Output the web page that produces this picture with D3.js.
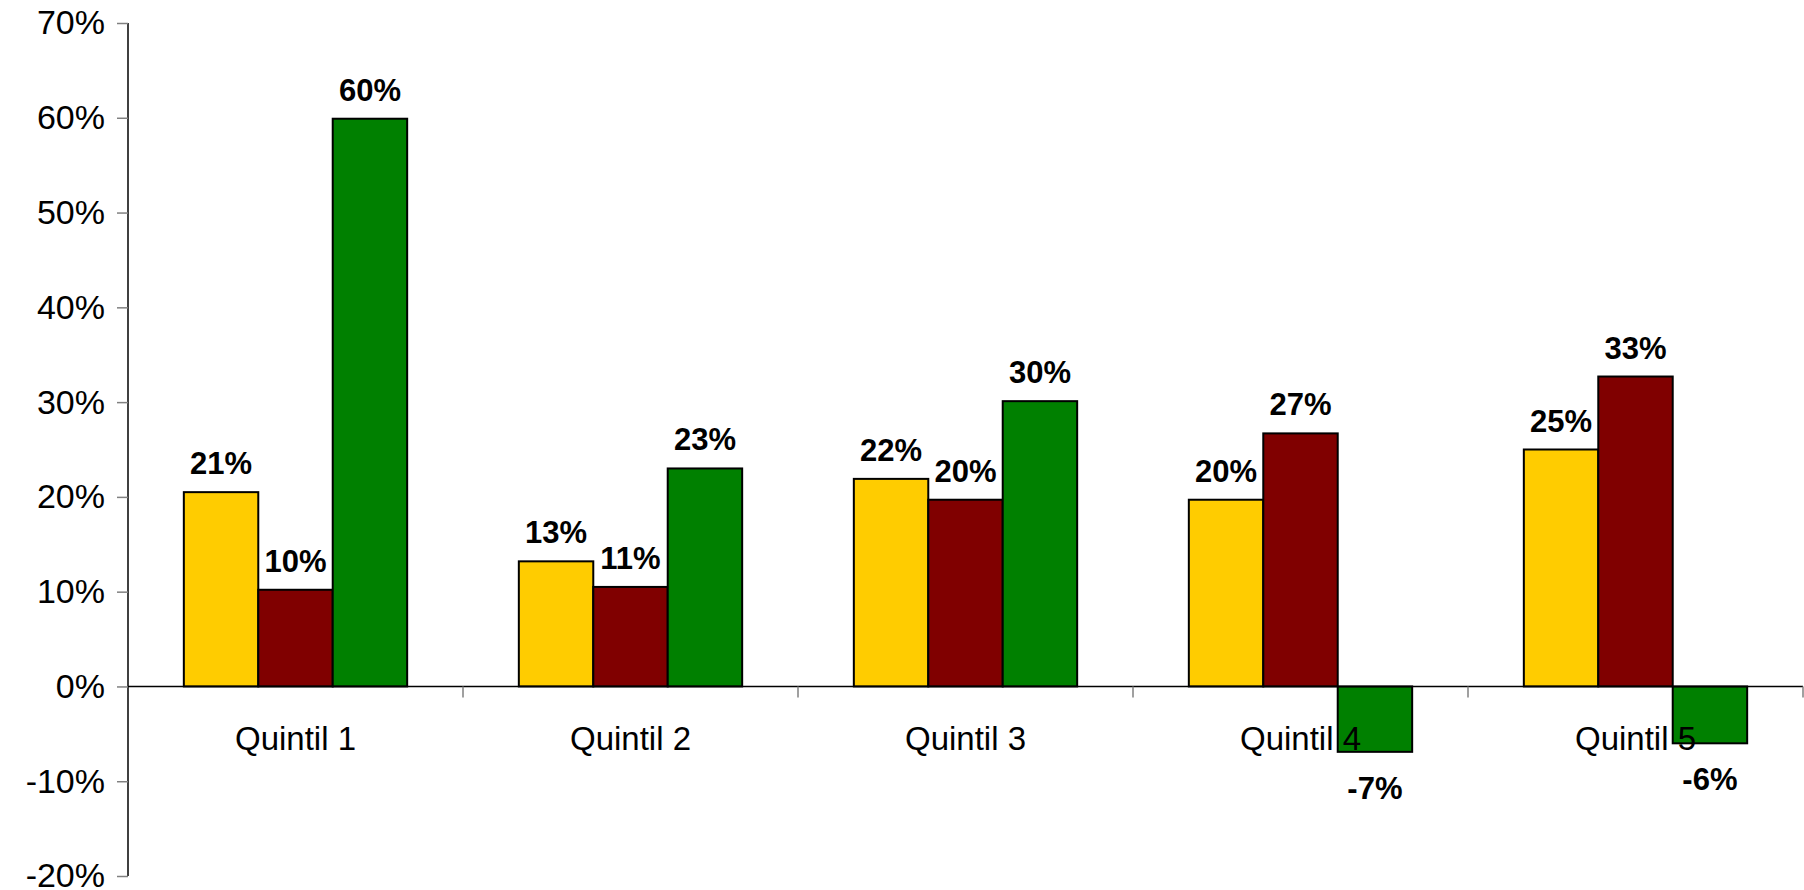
<!DOCTYPE html>
<html><head><meta charset="utf-8">
<script src="https://cdn.jsdelivr.net/npm/d3@7/dist/d3.min.js"></script>
<style>html,body{margin:0;padding:0;background:#fff;overflow:hidden}</style>
</head><body>
<svg id="chart" width="1804" height="890"></svg>
<script>
const categories = ["Quintil 1", "Quintil 2", "Quintil 3", "Quintil 4", "Quintil 5"];
const seriesNames = ["Serie 1", "Serie 2", "Serie 3"];
const serie1 = [0.205, 0.132, 0.219, 0.197, 0.250];
const serie2 = [0.102, 0.105, 0.197, 0.267, 0.327];
const serie3 = [0.599, 0.230, 0.301, -0.069, -0.060];
const labels1 = ["21%", "13%", "22%", "20%", "25%"];
const labels2 = ["10%", "11%", "20%", "27%", "33%"];
const labels3 = ["60%", "23%", "30%", "-7%", "-6%"];
const yTicks = [-0.2, -0.1, 0, 0.1, 0.2, 0.3, 0.4, 0.5, 0.6, 0.7];
const yTickLabels = ["-20%", "-10%", "0%", "10%", "20%", "30%", "40%", "50%", "60%", "70%"];
const colors = ["#FFCC00", "#800000", "#008000"];

(function () {
const series = [serie1, serie2, serie3];
const seriesLabels = [labels1, labels2, labels3];

const svg = d3.select("#chart");
const mLeft = 128, mRight = 1803, mTop = 23, mBottom = 876;

const y = d3.scaleLinear().domain([-0.2, 0.7]).range([mBottom, mTop]);
const x0 = d3.scaleBand().domain(categories).range([mLeft, mRight]).padding(0);
// Excel gap width 150%: band = 3 bars + 1.5 bar widths of gap
const barW = x0.bandwidth() / 4.5;
const x1 = d3.scaleBand().domain(seriesNames).range([0, barW * 3]);

// Y axis
const yAxis = d3.axisLeft(y).tickValues(yTicks)
  .tickFormat((d, i) => yTickLabels[i]).tickSize(11).tickPadding(12);
const gy = svg.append("g").attr("transform", `translate(${mLeft},0)`).call(yAxis);
gy.select(".domain").attr("stroke", "#000").attr("stroke-width", 1.5).attr("d", `M0,${mTop}V${mBottom}`);
gy.selectAll(".tick line").attr("stroke", "#808080").attr("stroke-width", 1.5);
gy.selectAll(".tick text").attr("font-family", "Liberation Sans, Arial, sans-serif").attr("font-size", 34).attr("fill", "#000");

// Bars
const groups = svg.append("g").selectAll("g").data(categories).join("g")
  .attr("transform", d => `translate(${x0(d) + (x0.bandwidth() - barW * 3) / 2},0)`);

series.forEach((vals, si) => {
  groups.append("rect")
    .attr("x", x1(seriesNames[si]))
    .attr("width", x1.bandwidth())
    .attr("y", (d, i) => y(Math.max(0, vals[i])))
    .attr("height", (d, i) => Math.abs(y(vals[i]) - y(0)))
    .attr("fill", colors[si])
    .attr("stroke", "#000")
    .attr("stroke-width", 2);
});

// X axis line and ticks at band boundaries
svg.append("line").attr("x1", mLeft).attr("x2", mRight).attr("y1", y(0)).attr("y2", y(0)).attr("stroke", "#000").attr("stroke-width", 1.5);
const bounds = categories.map(c => x0(c) + x0.bandwidth());
svg.append("g").selectAll("line").data(bounds).join("line")
  .attr("x1", d => d).attr("x2", d => d).attr("y1", y(0)).attr("y2", y(0) + 11)
  .attr("stroke", "#808080").attr("stroke-width", 1.5);

// Category labels
svg.append("g").selectAll("text").data(categories).join("text")
  .attr("x", d => x0(d) + x0.bandwidth() / 2)
  .attr("y", y(0) + 64)
  .attr("text-anchor", "middle")
  .attr("font-family", "Liberation Sans, Arial, sans-serif")
  .attr("font-size", 33)
  .attr("fill", "#000")
  .text(d => d);

// Data labels
series.forEach((vals, si) => {
  groups.append("text")
    .attr("x", x1(seriesNames[si]) + x1.bandwidth() / 2)
    .attr("y", (d, i) => vals[i] >= 0 ? y(vals[i]) - 18 : y(vals[i]) + 47)
    .attr("text-anchor", "middle")
    .attr("font-family", "Liberation Sans, Arial, sans-serif")
    .attr("font-weight", "bold")
    .attr("font-size", 31)
    .attr("fill", "#000")
    .text((d, i) => seriesLabels[si][i]);
});
})();
</script>
</body></html>
